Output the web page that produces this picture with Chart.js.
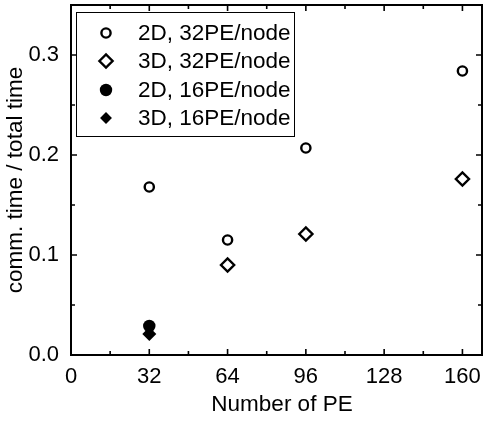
<!DOCTYPE html>
<html>
<head>
<meta charset="utf-8">
<script src="https://cdn.jsdelivr.net/npm/chart.js@4"></script>
<style>
  html, body { margin: 0; padding: 0; background: #fff; }
  #wrap { width: 486px; height: 421px; }
</style>
</head>
<body>
<div id="wrap"><canvas id="myChart" width="486" height="421"></canvas></div>
<script>
// data
const seriesNames = ['2D, 32PE/node', '3D, 32PE/node', '2D, 16PE/node', '3D, 16PE/node'];
const pe2d32 = [32, 64, 96, 160];
const val2d32 = [0.168, 0.115, 0.207, 0.284];
const pe3d32 = [64, 96, 160];
const val3d32 = [0.090, 0.121, 0.176];
const pe2d16 = [32];
const val2d16 = [0.029];
const pe3d16 = [32];
const val3d16 = [0.021];

const xTicks = [0, 32, 64, 96, 128, 160];
const yTicks = [0.0, 0.1, 0.2, 0.3];
const xMinor = 16;
const yMinor = 0.05;

const FONT = '"Liberation Sans", Arial, sans-serif';

function toPoints(xs, ys) {
    return xs.map((x, i) => ({ x: x, y: ys[i] }));
}

const styles = [
    { pointStyle: 'circle', radius: 4.6, fill: '#fff', bw: 2.4 },
    { pointStyle: 'rectRot', radius: 6.6, fill: '#fff', bw: 2.4 },
    { pointStyle: 'circle', radius: 6.2, fill: '#000', bw: 0 },
    { pointStyle: 'rectRot', radius: 7, fill: '#000', bw: 0 }
];

const allData = [
    toPoints(pe2d32, val2d32),
    toPoints(pe3d32, val3d32),
    toPoints(pe2d16, val2d16),
    toPoints(pe3d16, val3d16)
];

const datasets = allData.map((pts, i) => ({
    label: seriesNames[i],
    data: pts,
    pointStyle: styles[i].pointStyle,
    pointRadius: styles[i].radius,
    pointHoverRadius: styles[i].radius,
    backgroundColor: styles[i].fill,
    borderColor: '#000',
    borderWidth: styles[i].bw,
    showLine: false,
    order: i
}));

// frame, inward ticks, axis titles and the boxed legend
const framePlugin = {
    id: 'frame',
    afterDraw(chart) {
        const ctx = chart.ctx;
        const a = chart.chartArea;
        const xs = chart.scales.x, ys = chart.scales.y;
        ctx.save();
        ctx.strokeStyle = '#000';
        ctx.lineWidth = 1.6;
        ctx.beginPath();
        for (let v = xs.min; v <= xs.max + 1e-9; v += xMinor) {
            const px = xs.getPixelForValue(v);
            const len = (v % 32 === 0) ? 6 : 4;
            ctx.moveTo(px, a.bottom); ctx.lineTo(px, a.bottom - len);
            ctx.moveTo(px, a.top); ctx.lineTo(px, a.top + len);
        }
        for (let k = 0; k * yMinor <= ys.max + 1e-9; k++) {
            const py = ys.getPixelForValue(k * yMinor);
            const len = (k % 2 === 0) ? 6 : 4;
            ctx.moveTo(a.left, py); ctx.lineTo(a.left + len, py);
            ctx.moveTo(a.right, py); ctx.lineTo(a.right - len, py);
        }
        ctx.stroke();
        ctx.lineWidth = 2;
        ctx.strokeRect(a.left, a.top, a.right - a.left, a.bottom - a.top);

        // axis titles
        ctx.fillStyle = '#000';
        ctx.font = '22.5px ' + FONT;
        ctx.textAlign = 'center';
        ctx.textBaseline = 'middle';
        ctx.fillText('Number of PE', 282, 405);
        ctx.save();
        ctx.translate(16, (a.top + a.bottom) / 2);
        ctx.rotate(-Math.PI / 2);
        ctx.fillText('comm. time / total time', 0, 0);
        ctx.restore();

        // legend box
        ctx.lineWidth = 1;
        ctx.strokeRect(76.5, 12.5, 218, 124);
        const rows = [33, 61, 90, 118];
        ctx.font = '22.5px ' + FONT;
        ctx.textAlign = 'left';
        rows.forEach((ry, i) => {
            const st = styles[i];
            ctx.fillStyle = st.fill;
            ctx.strokeStyle = '#000';
            ctx.lineWidth = st.bw;
            Chart.helpers.drawPoint(ctx, {
                pointStyle: st.pointStyle,
                radius: st.radius * (i === 3 ? 0.85 : 1),
                borderWidth: st.bw,
                rotation: 0
            }, 106, ry);
            ctx.fillStyle = '#000';
            ctx.fillText(seriesNames[i], 138, ry + 1);
        });
        ctx.restore();
    }
};

const ctx = document.getElementById('myChart').getContext('2d');
const chart = new Chart(ctx, {
    type: 'scatter',
    data: { datasets: datasets },
    options: {
        responsive: false,
        animation: false,
        layout: { autoPadding: false, padding: { top: 5, right: 4, left: 0, bottom: 0 } },
        plugins: {
            legend: { display: false },
            tooltip: { enabled: false }
        },
        scales: {
            x: {
                type: 'linear',
                min: 0,
                max: 168,
                grid: { display: false },
                border: { display: false },
                afterBuildTicks: s => { s.ticks = xTicks.map(v => ({ value: v })); },
                afterFit: s => { s.height = 66; s.paddingLeft = 0; s.paddingRight = 0; },
                ticks: {
                    color: '#000',
                    padding: 1,
                    maxRotation: 0,
                    font: { family: FONT, size: 22 },
                    callback: v => String(v)
                }
            },
            y: {
                type: 'linear',
                min: 0,
                max: 0.35,
                grid: { display: false },
                border: { display: false },
                afterBuildTicks: s => { s.ticks = yTicks.map(v => ({ value: v })); },
                afterFit: s => { s.width = 71; s.paddingTop = 0; s.paddingBottom = 0; },
                ticks: {
                    color: '#000',
                    padding: 4,
                    font: { family: FONT, size: 22 },
                    callback: v => Number(v).toFixed(1)
                }
            }
        }
    },
    plugins: [framePlugin]
});
</script>
</body>
</html>
